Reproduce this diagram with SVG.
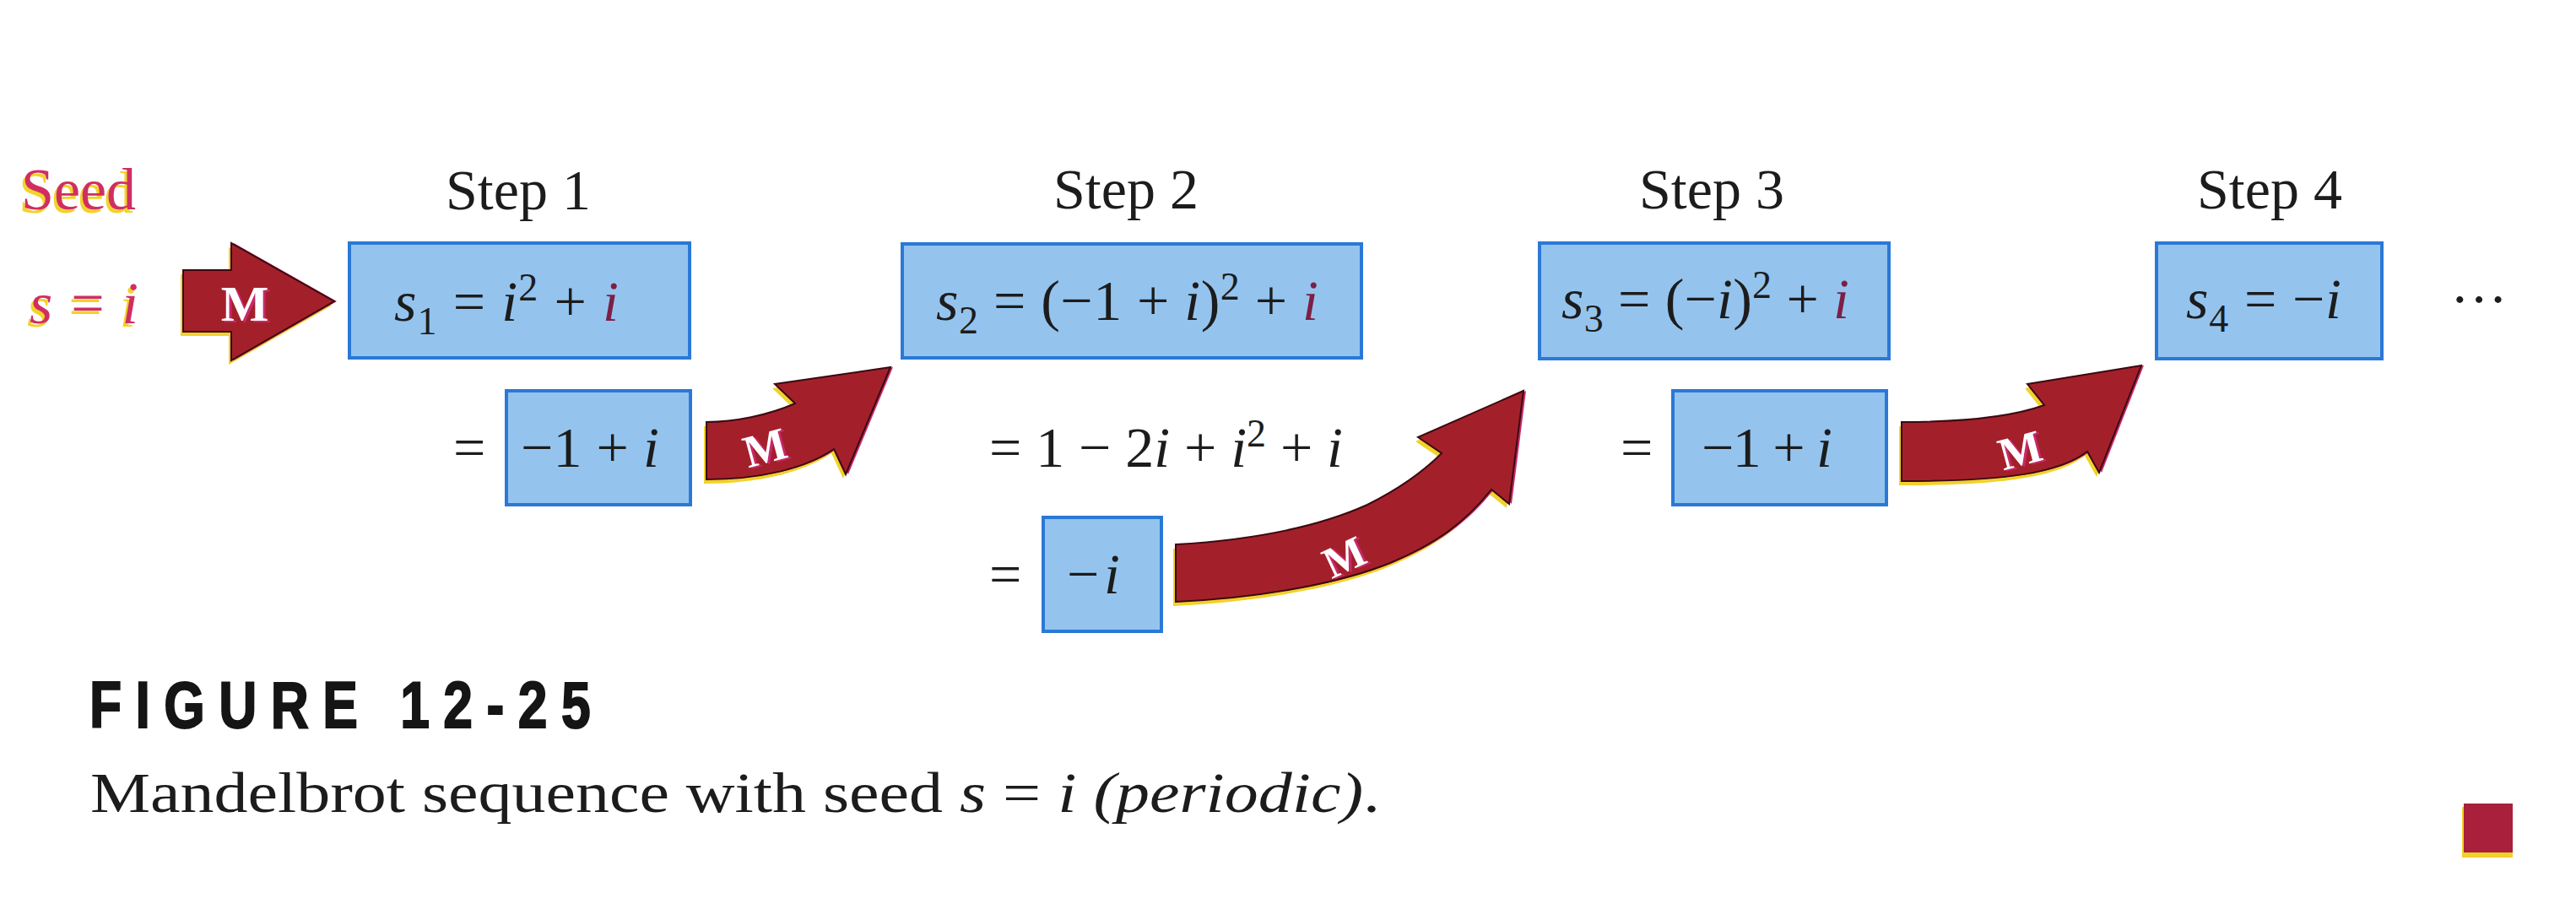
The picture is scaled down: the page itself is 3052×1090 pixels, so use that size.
<svg xmlns="http://www.w3.org/2000/svg" width="3052" height="1090" viewBox="0 0 3052 1090">
<style>
.t{font-family:"Liberation Serif","Times New Roman",serif;fill:#1c1c1c;font-size:68px}
.it{font-style:italic}
.rd{fill:#7d1f45}
.sd{font-family:"Liberation Serif","Times New Roman",serif;font-size:70px;fill:#d02e62}
.sdsh{font-family:"Liberation Serif","Times New Roman",serif;font-size:70px;fill:#f3d22a}
.box{fill:#94c4ee;stroke:#2b78d6;stroke-width:4}
.arr{fill:#a3202b;stroke:#3a0a10;stroke-width:2}
.ash{fill:#f2d12a}
.aedge{fill:#c8286a}
.ml{font-family:"Liberation Serif","Times New Roman",serif;font-weight:bold;fill:#ffffff}
.mlsh{font-family:"Liberation Serif","Times New Roman",serif;font-weight:bold;fill:#c8286a}
</style>
<defs>
<path id="a0" d="M217,320 L274,320 L274,288 L396,357 L274,427 L274,393 L217,393 Z"/>
<path id="a1" d="M837,500 C870,500 910,492 942,478 L918,455 L1055,435 L1002,562 L988,532 C955,555 900,568 837,568 Z"/>
<path id="a2" d="M1393,645 C1480,640 1560,625 1620,598 C1660,578 1690,555 1708,537 L1680,518 L1805,463 L1788,597 L1767,580 C1735,620 1700,645 1647,667 C1590,690 1500,708 1393,713 Z"/>
<path id="a3" d="M2253,500 C2320,500 2380,495 2422,480 L2402,455 L2537,433 L2487,560 L2473,535 C2440,560 2380,570 2253,570 Z"/>
</defs>
<rect width="3052" height="1090" fill="#ffffff"/>

<g id="seed">
<text class="sdsh" x="22" y="252">Seed</text>
<text class="sd" x="25" y="248">Seed</text>
<text class="sdsh it" x="32" y="387">s = i</text>
<text class="sd it" x="35" y="383">s = i</text>
</g>

<g id="step-labels" class="t">
<text x="614" y="248" text-anchor="middle">Step 1</text>
<text x="1334" y="247" text-anchor="middle">Step 2</text>
<text x="2028" y="247" text-anchor="middle">Step 3</text>
<text x="2689" y="247" text-anchor="middle">Step 4</text>
</g>

<g id="node-s1">
<rect class="box" x="414" y="288" width="403" height="136"/>
<text class="t" x="467" y="380" textLength="266" lengthAdjust="spacing"><tspan class="it">s</tspan><tspan font-size="46" dy="16">1</tspan><tspan dy="-16"> = </tspan><tspan class="it">i</tspan><tspan font-size="46" dy="-24">2</tspan><tspan dy="24"> + </tspan><tspan class="it rd">i</tspan></text>
</g>

<g id="node-r1">
<text class="t" x="537" y="553">=</text>
<rect class="box" x="600" y="463" width="218" height="135"/>
<text class="t" x="617" y="553" textLength="164" lengthAdjust="spacing">−1 + <tspan class="it">i</tspan></text>
</g>

<g id="node-s2">
<rect class="box" x="1069" y="289" width="544" height="135"/>
<text class="t" x="1109" y="379" textLength="453" lengthAdjust="spacing"><tspan class="it">s</tspan><tspan font-size="46" dy="16">2</tspan><tspan dy="-16"> = (−1 + </tspan><tspan class="it">i</tspan>)<tspan font-size="46" dy="-24">2</tspan><tspan dy="24"> + </tspan><tspan class="it rd">i</tspan></text>
</g>

<g id="node-expand2">
<text class="t" x="1172" y="553" textLength="419" lengthAdjust="spacing">= 1 − 2<tspan class="it">i</tspan> + <tspan class="it">i</tspan><tspan font-size="46" dy="-24">2</tspan><tspan dy="24"> + </tspan><tspan class="it">i</tspan></text>
</g>

<g id="node-r2">
<text class="t" x="1172" y="703">=</text>
<rect class="box" x="1236" y="613" width="140" height="135"/>
<text class="t" x="1264" y="703" textLength="63" lengthAdjust="spacing">−<tspan class="it">i</tspan></text>
</g>

<g id="node-s3">
<rect class="box" x="1824" y="288" width="414" height="137"/>
<text class="t" x="1850" y="377" textLength="341" lengthAdjust="spacing"><tspan class="it">s</tspan><tspan font-size="46" dy="16">3</tspan><tspan dy="-16"> = (−</tspan><tspan class="it">i</tspan>)<tspan font-size="46" dy="-24">2</tspan><tspan dy="24"> + </tspan><tspan class="it rd">i</tspan></text>
</g>

<g id="node-r3">
<text class="t" x="1920" y="553">=</text>
<rect class="box" x="1982" y="463" width="253" height="135"/>
<text class="t" x="2016" y="553" textLength="155" lengthAdjust="spacing">−1 + <tspan class="it">i</tspan></text>
</g>

<g id="node-s4">
<rect class="box" x="2555" y="288" width="267" height="137"/>
<text class="t" x="2590" y="377" textLength="184" lengthAdjust="spacing"><tspan class="it">s</tspan><tspan font-size="46" dy="16">4</tspan><tspan dy="-16"> = −</tspan><tspan class="it">i</tspan></text>
</g>

<g id="ellipsis">
<text class="t" x="2903" y="377" textLength="68" lengthAdjust="spacing">···</text>
</g>

<g id="connectors">
<g>
<use href="#a0" class="ash" transform="translate(-3,5)"/>
<use href="#a0" class="aedge" transform="translate(3,0)"/>
<use href="#a0" class="arr"/>
<text class="mlsh" x="293" y="382" font-size="60" text-anchor="middle">M</text>
<text class="ml" x="290" y="380" font-size="60" text-anchor="middle">M</text>
</g>
<g>
<use href="#a1" class="ash" transform="translate(-3,5)"/>
<use href="#a1" class="aedge" transform="translate(3,0)"/>
<use href="#a1" class="arr"/>
<g transform="translate(911,548) rotate(-15)">
<text class="mlsh" x="3" y="2" font-size="54" text-anchor="middle">M</text>
<text class="ml" x="0" y="0" font-size="54" text-anchor="middle">M</text>
</g>
</g>
<g>
<use href="#a2" class="ash" transform="translate(-3,5)"/>
<use href="#a2" class="aedge" transform="translate(3,0)"/>
<use href="#a2" class="arr"/>
<g transform="translate(1600,676) rotate(-25)">
<text class="mlsh" x="3" y="2" font-size="52" text-anchor="middle">M</text>
<text class="ml" x="0" y="0" font-size="52" text-anchor="middle">M</text>
</g>
</g>
<g>
<use href="#a3" class="ash" transform="translate(-3,5)"/>
<use href="#a3" class="aedge" transform="translate(3,0)"/>
<use href="#a3" class="arr"/>
<g transform="translate(2398,551) rotate(-15)">
<text class="mlsh" x="3" y="2" font-size="54" text-anchor="middle">M</text>
<text class="ml" x="0" y="0" font-size="54" text-anchor="middle">M</text>
</g>
</g>
</g>

<g id="caption">
<text transform="translate(106,862) scale(0.8,1)" font-family="'Liberation Sans',Arial,sans-serif" font-weight="bold" font-size="78" fill="#151515" stroke="#151515" stroke-width="2" textLength="742" lengthAdjust="spacing">FIGURE 12-25</text>
<text class="t" x="107" y="962" font-size="88" textLength="1528" lengthAdjust="spacingAndGlyphs">Mandelbrot sequence with seed <tspan class="it">s</tspan> = <tspan class="it">i</tspan> <tspan class="it">(periodic)</tspan>.</text>
</g>

<g id="end-mark">
<rect x="2917" y="956" width="60" height="60" fill="#f2d12a"/>
<rect x="2919" y="952" width="58" height="58" fill="#a8203c"/>
</g>
</svg>
